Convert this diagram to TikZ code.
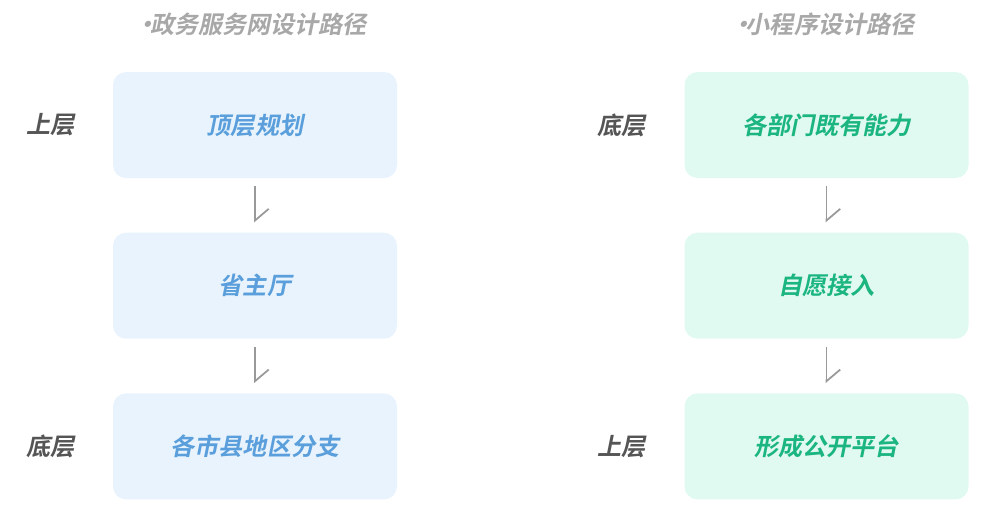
\documentclass[tikz,border=0pt]{standalone}
\usepackage{fontspec}
\newfontfamily\cjk{Noto Sans CJK SC Bold}[FakeSlant=0.2]
\usetikzlibrary{positioning,arrows.meta}
\definecolor{blueFill}{HTML}{E8F3FD}
\definecolor{blueText}{HTML}{5A9FDB}
\definecolor{greenFill}{HTML}{E0F9F1}
\definecolor{greenText}{HTML}{1BB57F}
\definecolor{labelGray}{HTML}{555555}
\definecolor{titleGray}{HTML}{A8A8A8}
\definecolor{arrowGray}{HTML}{999999}
\newcommand{\titledot}{\makebox[0.3em]{·}}
\begin{document}
\begin{tikzpicture}[every node/.style={font=\cjk\fontsize{13.7}{16}\selectfont,inner sep=0pt},
    pathbox/.style={draw=none,rounded corners=0.26cm,minimum width=5.68cm,minimum height=2.12cm},
    govbox/.style={pathbox,fill=blueFill,text=blueText},
    appbox/.style={pathbox,fill=greenFill,text=greenText},
    tierlabel/.style={text=labelGray},
    pathtitle/.style={text=titleGray},
    flowarrow/.style={draw=arrowGray,line width=1pt,shorten <=0.16cm,shorten >=0.2cm,
      -{Straight Barb[left,length=6.6pt,width=15.6pt]}},
    node distance=1.08cm]
  \useasboundingbox (0,0) rectangle (20,-10.32);
  % left column
  \node[govbox] (l1) at (5.1,-2.5) {顶层规划};
  \node[govbox, below=of l1] (l2) {省主厅};
  \node[govbox, below=of l2] (l3) {各市县地区分支};
  % right column
  \node[appbox] (r1) at (16.53,-2.5) {各部门既有能力};
  \node[appbox, below=of r1] (r2) {自愿接入};
  \node[appbox, below=of r2] (r3) {形成公开平台};
  % titles
  \node[pathtitle] (t1) at ([yshift=0.94cm]l1.north) {\titledot 政务服务网设计路径};
  \node[pathtitle] (t2) at ([yshift=0.94cm]r1.north) {\titledot 小程序设计路径};
  % tier labels
  \node[tierlabel, left=0.76cm of l1] (l1lab) {上层};
  \node[tierlabel, left=0.76cm of l3] (l3lab) {底层};
  \node[tierlabel, left=0.76cm of r1] (r1lab) {底层};
  \node[tierlabel, left=0.76cm of r3] (r3lab) {上层};
  % arrows
  \foreach \a/\b in {l1/l2,l2/l3,r1/r2,r2/r3}
    \draw[flowarrow] (\a) -- (\b);
\end{tikzpicture}
\end{document}
